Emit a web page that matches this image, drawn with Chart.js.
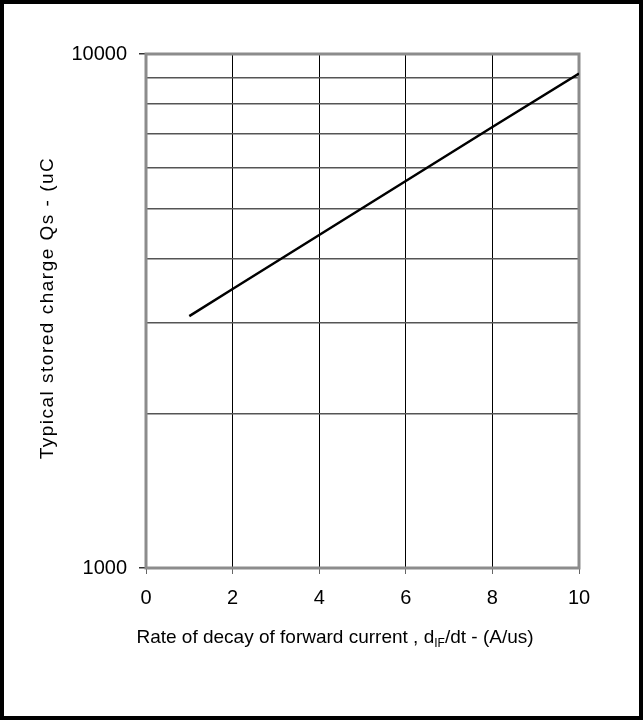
<!DOCTYPE html>
<html>
<head>
<meta charset="utf-8">
<script src="https://cdn.jsdelivr.net/npm/chart.js@4/dist/chart.umd.min.js"></script>
<style>
  html, body { margin: 0; padding: 0; background: #fff; }
  #wrap { width: 643px; height: 720px; }
</style>
</head>
<body>
<div id="wrap"><canvas id="chart" width="643" height="720"></canvas></div>
<script>
  'use strict';

  // values
  var rateValues = [1, 2, 4, 6, 8, 10];
  var chargeValues = [3090, 3490, 4445, 5660, 7210, 9165];
  var yTicks = [1000, 2000, 3000, 4000, 5000, 6000, 7000, 8000, 9000, 10000];
  var yLabelledTicks = [1000, 10000];
  var yTitle = 'Typical stored charge Qs - (uC';
  var xTitleParts = ['Rate of decay of forward current , d', 'IF', '/dt - (A/us)'];

  var FONT = '"Liberation Sans", Arial, sans-serif';

  // outer frame, plot border and axis titles
  var decorations = {
    id: 'decorations',
    beforeDraw: function ( chart ) {
      var ctx = chart.ctx;
      ctx.save();
      ctx.fillStyle = '#fff';
      ctx.fillRect( 0, 0, chart.width, chart.height );
      ctx.strokeStyle = '#000';
      ctx.lineWidth = 4;
      ctx.strokeRect( 2, 2, chart.width - 4, chart.height - 4 );
      ctx.restore();
    },
    beforeDatasetsDraw: function ( chart ) {
      var a = chart.chartArea;
      var ctx = chart.ctx;
      ctx.save();
      ctx.strokeStyle = '#8c8c8c';
      ctx.lineWidth = 3;
      ctx.strokeRect( a.left, a.top, a.right - a.left, a.bottom - a.top );
      ctx.restore();
    },
    afterDraw: function ( chart ) {
      var ctx = chart.ctx;
      ctx.save();
      ctx.fillStyle = '#000';

      // y title (slightly spaced out in the reference)
      ctx.font = '19px ' + FONT;
      ctx.letterSpacing = '1.5px';
      ctx.textAlign = 'center';
      ctx.textBaseline = 'alphabetic';
      ctx.translate( 53, 308 );
      ctx.rotate( -Math.PI / 2 );
      ctx.fillText( yTitle, 0, 0 );
      ctx.setTransform( 1, 0, 0, 1, 0, 0 );
      ctx.letterSpacing = '0px';

      // x title with subscript
      var big = '19px ' + FONT;
      var small = '12px ' + FONT;
      ctx.textAlign = 'left';
      ctx.font = big;
      var w1 = ctx.measureText( xTitleParts[0] ).width;
      var w3 = ctx.measureText( xTitleParts[2] ).width;
      ctx.font = small;
      var w2 = ctx.measureText( xTitleParts[1] ).width;
      var x = 335 - ( w1 + w2 + w3 ) / 2;
      var y = 643;
      ctx.font = big;
      ctx.fillText( xTitleParts[0], x, y );
      ctx.font = small;
      ctx.fillText( xTitleParts[1], x + w1, y + 4 );
      ctx.font = big;
      ctx.fillText( xTitleParts[2], x + w1 + w2, y );
      ctx.restore();
    }
  };

  new Chart( document.getElementById( 'chart' ), {
    type: 'line',
    data: {
      labels: rateValues,
      datasets: [
        {
          data: rateValues.map( function ( r, i ) {
            return { x: r, y: chargeValues[i] };
          } ),
          borderColor: '#000',
          borderWidth: 2.5,
          pointRadius: 0,
          tension: 0,
          fill: false
        }
      ]
    },
    options: {
      responsive: false,
      animation: false,
      layout: {
        padding: { left: 0, top: 54, right: 64, bottom: 0 }
      },
      plugins: {
        legend: { display: false },
        tooltip: { enabled: false }
      },
      scales: {
        x: {
          type: 'linear',
          min: 0,
          max: 10,
          afterFit: function ( scale ) {
            scale.height = 152;
          },
          ticks: {
            stepSize: 2,
            color: '#000',
            padding: 12,
            font: { family: FONT, size: 20 }
          },
          border: { display: false },
          grid: {
            color: function ( c ) {
              return ( c.tick && ( c.tick.value === 0 || c.tick.value === 10 ) ) ? 'rgba(0,0,0,0)' : '#000';
            },
            lineWidth: 1,
            tickLength: 6,
            tickColor: '#666'
          }
        },
        y: {
          type: 'logarithmic',
          min: 1000,
          max: 10000,
          afterFit: function ( scale ) {
            scale.width = 146;
          },
          afterBuildTicks: function ( scale ) {
            scale.ticks = yTicks.map( function ( v ) {
              return { value: v, major: yLabelledTicks.indexOf( v ) !== -1 };
            } );
          },
          ticks: {
            autoSkip: false,
            color: '#000',
            padding: 12,
            font: { family: FONT, size: 20 },
            callback: function ( value ) {
              return yLabelledTicks.indexOf( value ) !== -1 ? String( value ) : '';
            }
          },
          border: { display: false },
          grid: {
            color: function ( c ) {
              return ( c.tick && ( c.tick.value === 1000 || c.tick.value === 10000 ) ) ? 'rgba(0,0,0,0)' : '#555';
            },
            lineWidth: 1.5,
            tickLength: 7,
            tickColor: function ( c ) {
              return ( c.tick && yLabelledTicks.indexOf( c.tick.value ) !== -1 ) ? '#333' : 'rgba(0,0,0,0)';
            }
          }
        }
      }
    },
    plugins: [ decorations ]
  } );
</script>
</body>
</html>
